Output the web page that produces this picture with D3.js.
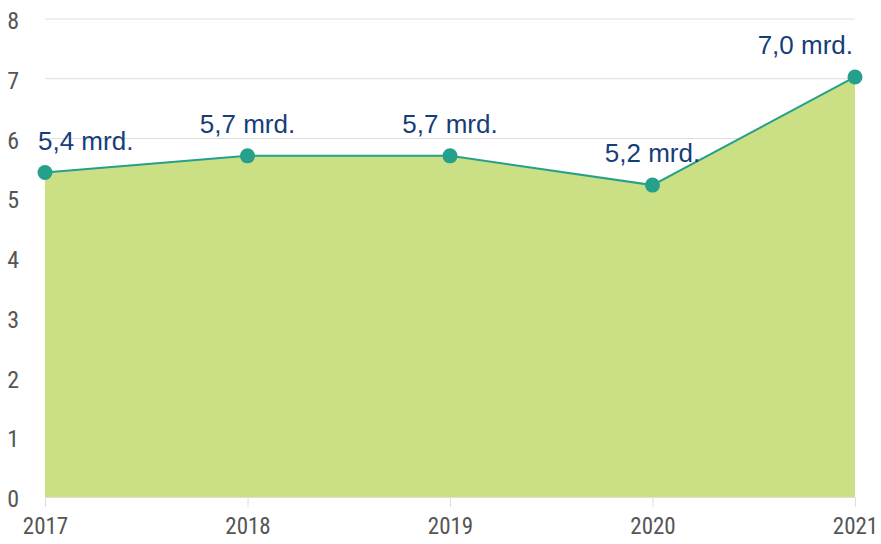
<!DOCTYPE html>
<html><head><meta charset="utf-8">
<script src="https://cdn.jsdelivr.net/npm/d3@7"></script>
<style>body{margin:0;background:#fff}svg{display:block}</style>
</head><body>
<svg id="c" width="881" height="544"></svg>
<script>
const years = ["2017","2018","2019","2020","2021"];
const values = [5.43, 5.71, 5.71, 5.22, 7.03];
const labels = ["5,4 mrd.","5,7 mrd.","5,7 mrd.","5,2 mrd.","7,0 mrd."];
const yTicks = [0,1,2,3,4,5,6,7,8];

const svg = d3.select("#c");
const L = 45, R = 855, T = 19, B = 497;
const x = d3.scalePoint().domain(years).range([L, R]);
const y = d3.scaleLinear().domain([0, 8]).range([B, T]);
const axisFont = "'Liberation Sans Narrow','Roboto Condensed',Roboto,sans-serif";

// grid
svg.append("g").selectAll("line").data(yTicks.filter(d=>d>0)).join("line")
  .attr("x1", L).attr("x2", R).attr("y1", d=>y(d)).attr("y2", d=>y(d))
  .attr("stroke", "#dedede").attr("stroke-width", 1);

// area
const data = years.map((yr,i)=>({yr, v: values[i], lab: labels[i]}));
svg.append("path").datum(data)
  .attr("d", d3.area().x(d=>x(d.yr)).y0(y(0)).y1(d=>y(d.v)))
  .attr("fill", "#cbdf85");
svg.append("path").datum(data)
  .attr("d", d3.line().x(d=>x(d.yr)).y(d=>y(d.v)))
  .attr("fill", "none").attr("stroke", "#25a08a").attr("stroke-width", 2);

// x axis
const xa = svg.append("g").attr("transform", `translate(0,${B})`)
  .call(d3.axisBottom(x).tickSize(10).tickPadding(11));
xa.select(".domain").attr("stroke", "#dedede").attr("d", `M${L},0.5H${R}`);
xa.selectAll(".tick line").attr("stroke", "#dedede");
xa.selectAll("text").attr("font-family", axisFont).attr("font-size", 23).attr("fill", "#555");

// y axis
const ya = svg.append("g").attr("transform", `translate(19,2)`)
  .call(d3.axisLeft(y).tickValues(yTicks).tickSize(0).tickPadding(0));
ya.select(".domain").remove();
ya.selectAll("text").attr("font-family", axisFont).attr("font-size", 24).attr("fill", "#555");

// points
svg.append("g").selectAll("circle").data(data).join("circle")
  .attr("cx", d=>x(d.yr)).attr("cy", d=>y(d.v)).attr("r", 7.5)
  .attr("fill", "#25a08a");

// labels
svg.append("g").selectAll("text").data(data).join("text")
  .attr("font-family", "'Liberation Sans', Arial, sans-serif").attr("font-size", 26)
  .attr("fill", "#173d79")
  .text(d=>d.lab)
  .each(function(d){
    const w = this.getComputedTextLength();
    let cx = x(d.yr);
    cx = Math.max(38 + w/2, Math.min(853 - w/2, cx));
    d3.select(this).attr("x", cx).attr("text-anchor","middle").attr("y", y(d.v) - 23);
  });
</script>
</body></html>
